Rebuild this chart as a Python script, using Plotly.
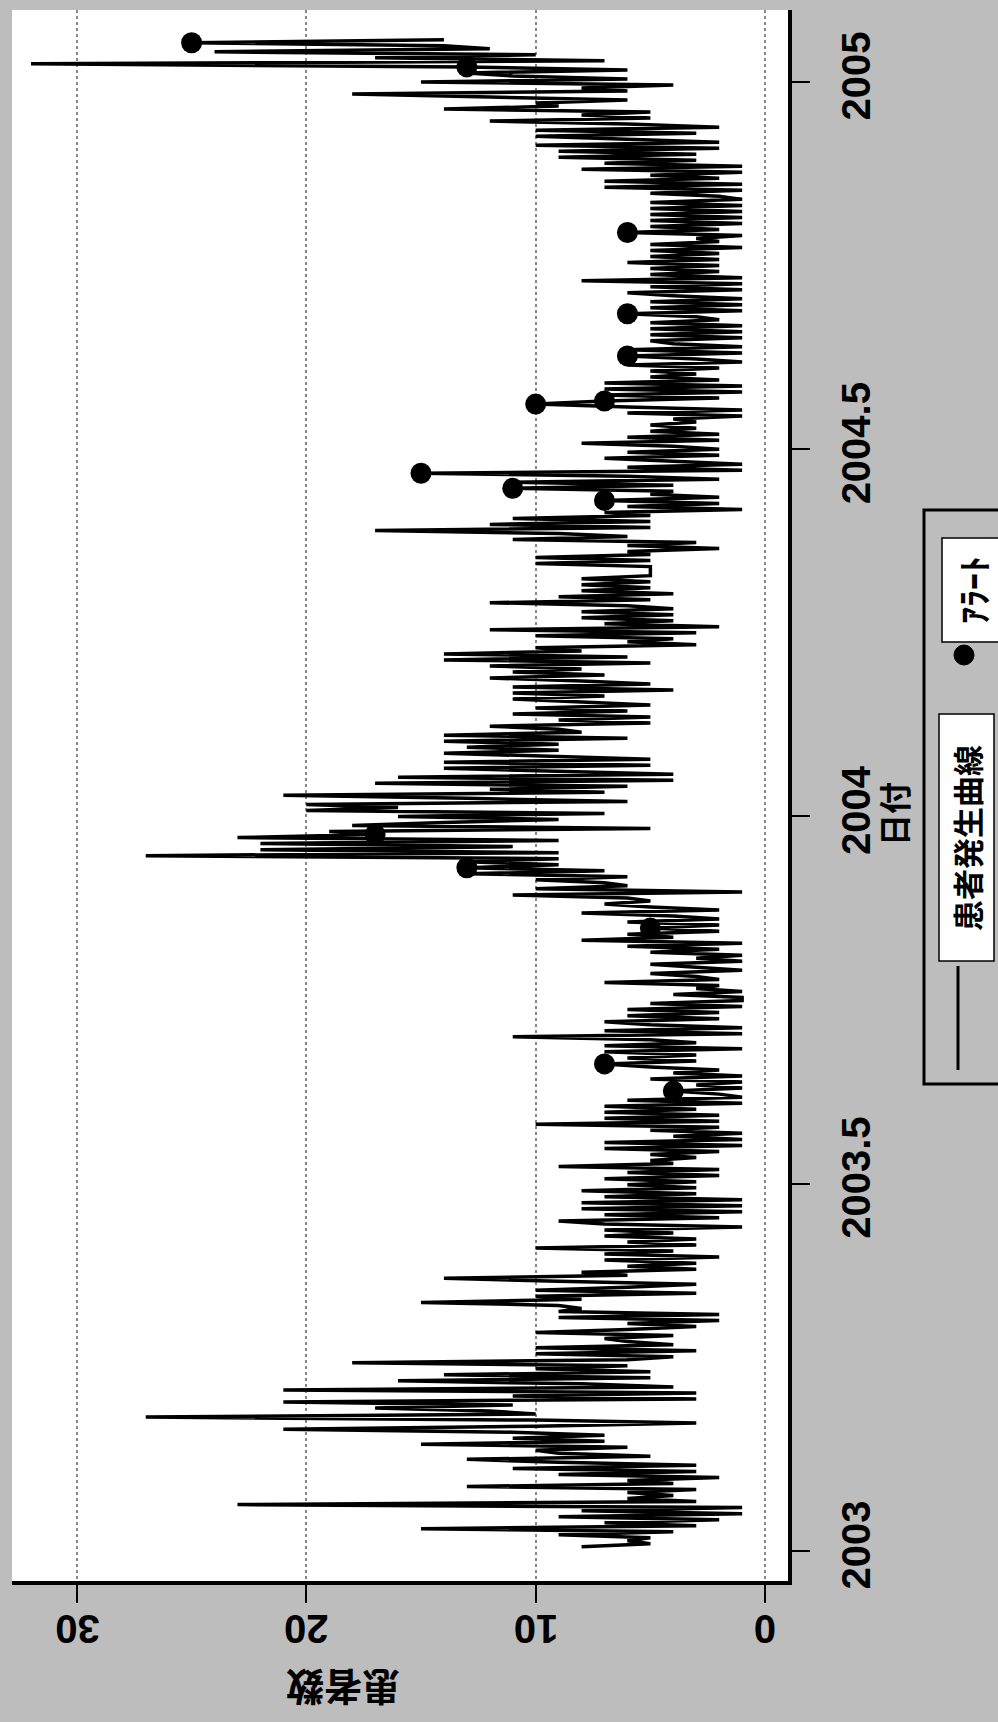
import pandas as pd
import plotly.graph_objects as go

# ---------------- data ----------------
# patient counts, one value every 36 hours starting 2003-01-03
start_date = "2003-01-03"
step = "36h"
cases = [
    # early 2003
    8, 5, 6, 5, 9, 4, 15, 3, 7, 2,
    9, 1, 8, 1, 23, 3, 6, 4, 6, 3,
    13, 4, 6, 2, 9, 3, 11, 3, 9, 13,
    5, 9, 10, 6, 15, 7, 11, 7, 11, 21,
    10, 3, 10, 27, 10, 12, 17, 11, 21,
    # spring 2003
    3, 11, 3, 21, 4, 8, 16, 5, 14, 5,
    10, 6, 18, 6, 4, 10, 3, 10, 4, 6,
    7, 4, 10, 6, 3, 6, 2, 9, 2, 9,
    8, 9, 15, 8, 10, 3, 10, 6, 3, 9,
    14, 6, 8, 3, 6, 3, 7, 2, 7, 4,
    10, 3, 6, 3, 7, 4, 7, 1, 7, 9,
    2, 7, 1, 8, 1, 8, 1,
    # summer 2003
    7, 3, 8, 3, 6, 3, 7, 2, 6, 2,
    9, 4, 5, 3, 5, 2, 7, 1, 7, 1,
    4, 1, 5, 2, 10, 2, 7, 2, 7, 3,
    7, 1, 6, 1, 2, 4, 1, 3, 1, 5,
    1, 4, 2, 5, 7, 3, 6, 3, 7, 1,
    7, 3, 5, 11, 1, 7, 1, 5, 7, 2,
    6, 2, 6, 1, 5, 1,
    # autumn 2003 - new year 2004
    1, 4, 1, 3, 2, 7, 2, 3, 5, 1,
    3, 5, 1, 3, 1, 5, 2, 6, 1, 8,
    4, 6, 2, 5, 2, 6, 2, 4, 8, 2,
    5, 7, 5, 6, 11, 1, 10, 6, 7, 10,
    6, 13, 7, 13, 9, 13, 9, 27, 9, 22,
    11, 22, 9, 23, 17, 19, 5, 18, 14, 9,
    16, 7, 20, 16, 20, 6,
    # early 2004
    13, 21, 7, 12, 6, 17, 4, 16, 4, 9,
    14, 5, 14, 5, 9, 14, 9, 13, 9, 14,
    6, 14, 8, 9, 12, 5, 9, 5, 11, 6,
    10, 5, 8, 11, 7, 11, 4, 11, 5, 8,
    12, 7, 11, 8, 12, 5, 14, 6, 14, 8,
    10, 3, 6, 4, 10, 3, 12, 2, 7, 4,
    8, 4, 8, 4, 6, 12, 5,
    # spring 2004
    9, 4, 8, 5, 8, 5, 8, 5, 5, 5,
    5, 10, 5, 10, 5, 6, 2, 6, 3, 11,
    6, 9, 17, 5, 12, 5, 11, 5, 7, 1,
    6, 2, 7, 2, 5, 4, 11, 4, 11, 2,
    6, 15, 1, 6, 1, 4, 7, 2, 6, 2,
    4, 8, 2, 6, 2, 5, 3, 5, 3, 4,
    1, 6, 1, 6, 10, 7,
    # summer - autumn 2004
    2, 7, 1, 7, 1, 7, 2, 5, 3, 5,
    2, 6, 1, 3, 6, 1, 6, 1, 4, 5,
    1, 5, 1, 5, 1, 5, 2, 3, 6, 1,
    5, 1, 5, 1, 4, 6, 1, 5, 1, 8,
    1, 5, 2, 5, 2, 6, 2, 5, 2, 5,
    1, 5, 2, 3, 1, 6, 2, 5, 1, 5,
    1, 5, 1, 5, 1, 5, 1,
    # late 2004 - Jan 2005
    2, 5, 1, 7, 1, 7, 2, 5, 1, 8,
    1, 7, 3, 9, 3, 9, 2, 10, 2, 6,
    10, 3, 10, 2, 6, 12, 5, 8, 5, 14,
    9, 10, 6, 12, 18, 6, 8, 4, 15, 6,
    11, 13, 6, 13, 32, 7, 17, 10, 24, 12,
    14, 25, 14,
]

# observations flagged as alerts (positions in the series above)
alert_idx = [151, 160, 205, 225, 236, 347, 351, 356, 379, 380, 395, 409, 436, 491, 499]

value_ticks = [0, 10, 20, 30]
value_tick_labels = ["0", "10", "20", "30"]
date_ticks = [2003, 2003.5, 2004, 2004.5, 2005]
date_tick_labels = ["2003", "2003.5", "2004", "2004.5", "2005"]

series_name = "患者発生曲線"
alert_name = "ｱﾗｰﾄ"
value_title = "患者数"
date_title = "日付"

# ---------------- build ----------------
dates = pd.date_range(start_date, periods=len(cases), freq=step)


def dec_year(ts):
    days = 366 if ts.is_leap_year else 365
    return ts.year + (ts.dayofyear - 1 + ts.hour / 24.0) / days


t = [dec_year(d) for d in dates]
alert_t = [t[i] for i in alert_idx]
alert_v = [cases[i] for i in alert_idx]

W, H = 998, 1722
ML, MR, MT, MB = 12, 210, 10, 141
PW = W - ML - MR
PH = H - MT - MB


def px(xpix):
    return (xpix - ML) / PW


def py(ypix):
    return (H - MB - ypix) / PH


fig = go.Figure()
fig.add_trace(go.Scatter(
    x=cases, y=t, mode="lines", name=series_name,
    line=dict(color="black", width=3.5), showlegend=False,
))
fig.add_trace(go.Scatter(
    x=alert_v, y=alert_t, mode="markers", name=alert_name,
    marker=dict(color="black", size=21), showlegend=False,
))

num_font = dict(family="Liberation Sans, Arial, sans-serif", size=40, color="black", weight="bold")
jp_font = "Noto Sans CJK JP, sans-serif"
BG = "#bdbdbd"

fig.update_layout(
    width=W, height=H,
    margin=dict(l=ML, r=MR, t=MT, b=MB, pad=0),
    paper_bgcolor=BG,
    plot_bgcolor="white",
    xaxis=dict(
        range=[32.83, -1.0],
        tickvals=value_ticks,
        showticklabels=False,
        ticks="outside", ticklen=18, tickwidth=2, tickcolor="black",
        showline=True, linecolor="black", linewidth=4,
        showgrid=True, gridcolor="#888888", griddash="dot", gridwidth=1.5,
        zeroline=False,
    ),
    yaxis=dict(
        range=[2002.959, 2005.098],
        side="right",
        tickvals=date_ticks,
        ticktext=date_tick_labels,
        tickangle=-90,
        tickfont=num_font,
        ticks="outside", ticklen=18, tickwidth=2, tickcolor="black",
        ticklabelstandoff=12,
        showline=True, linecolor="black", linewidth=4,
        showgrid=False, zeroline=False,
    ),
)

annotations = []
# value-axis tick labels (upside down, as in the rotated original)
for v, lab in zip(value_ticks, value_tick_labels):
    annotations.append(dict(
        text=lab, x=v, xref="x", y=py(1629), yref="paper",
        xanchor="center", yanchor="middle", showarrow=False, textangle=180,
        font=num_font,
    ))

common = dict(xref="paper", yref="paper", xanchor="center", yanchor="middle", showarrow=False)
annotations += [
    dict(text=value_title, x=px(343), y=py(1690), textangle=180,
         font=dict(family=jp_font, size=38, color="black", weight="bold"), **common),
    dict(text=date_title, x=px(893), y=py(814), textangle=-90,
         font=dict(family=jp_font, size=32, color="black", weight="bold"), **common),
    dict(text=series_name, x=px(966), y=py(838), textangle=-90,
         font=dict(family=jp_font, size=31, color="black", weight="bold"), **common),
    dict(text=alert_name, x=px(972), y=py(590), textangle=-90,
         font=dict(family=jp_font, size=34, color="black", weight="bold"), **common),
]

shapes = [
    # legend frame
    dict(type="rect", xref="paper", yref="paper",
         x0=px(924), x1=px(1004), y0=py(1084), y1=py(510),
         line=dict(color="black", width=3), fillcolor="rgba(0,0,0,0)", layer="above"),
    # legend label boxes
    dict(type="rect", xref="paper", yref="paper",
         x0=px(939), x1=px(994), y0=py(961), y1=py(714),
         line=dict(color="black", width=1.5), fillcolor="white", layer="below"),
    dict(type="rect", xref="paper", yref="paper",
         x0=px(942), x1=px(1004), y0=py(642), y1=py(538),
         line=dict(color="black", width=1.5), fillcolor="white", layer="below"),
    # legend line sample
    dict(type="line", xref="paper", yref="paper",
         x0=px(958), x1=px(958), y0=py(1070), y1=py(966),
         line=dict(color="black", width=3)),
    # legend marker sample
    dict(type="circle", xref="paper", yref="paper",
         x0=px(954), x1=px(974), y0=py(665), y1=py(645),
         line=dict(color="black", width=1), fillcolor="black"),
]

fig.update_layout(annotations=annotations, shapes=shapes)
fig.write_html(
    "out.html",
    config={"displayModeBar": False},
    post_script=(
        "document.body.style.margin='0px';"
        "document.body.style.padding='0px';"
        "document.body.style.overflow='hidden';"
        "document.body.style.background='" + BG + "';"
    ),
)
